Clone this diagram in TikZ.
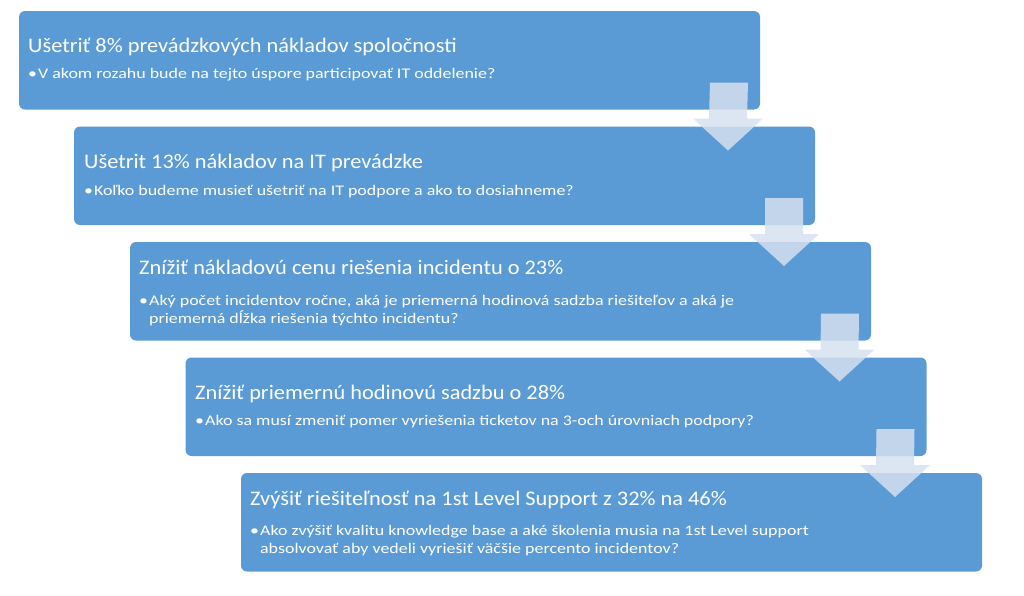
\documentclass[tikz,border=0pt]{standalone}
\usepackage{fontspec}
\setmainfont{Carlito}
\newfontfamily\titlefont[FakeStretch=1.08]{Carlito}
\newfontfamily\bulletfont[FakeStretch=1.22]{Carlito}
\usetikzlibrary{calc}
\definecolor{boxblue}{RGB}{91,155,213}
\definecolor{arrowtint}{RGB}{214,224,240}
\tikzset{
  stepbox/.style={fill=boxblue, draw=none, rounded corners=6pt, anchor=north west,
    minimum width=741pt, minimum height=98.5pt, inner sep=0pt, outer sep=0pt},
  ttl/.style={anchor=base west, inner sep=0pt, text=white,
    font=\titlefont\fontsize{20.7}{24}\selectfont},
  bul/.style={anchor=base west, inner sep=0pt, text=white,
    font=\bulletfont\fontsize{14.7}{18}\selectfont},
  arrowshape/.style={fill=arrowtint, fill opacity=0.85, draw=none},
}
\newcommand{\bl}{\textbullet\hspace{1pt}}
\begin{document}
\begin{tikzpicture}[x=1pt,y=-1pt]
\useasboundingbox (0,0) rectangle (1024,595);
% boxes
\node[stepbox] (b1) at (19,11) {};
\node[stepbox] (b2) at (74,126.5) {};
\node[stepbox] (b3) at (130,242) {};
\node[stepbox] (b4) at (185.5,357.5) {};
\node[stepbox] (b5) at (241,473) {};
% texts
\node[ttl] (t1) at (28,52) {Ušetriť 8\% prevádzkových nákladov spoločnosti};
\node[bul] (s1) at (28,78) {\bl V akom rozahu bude na tejto úspore participovať IT oddelenie?};
\node[ttl] (t2) at (84,168) {Ušetrit 13\% nákladov na IT prevádzke};
\node[bul] (s2) at (84,195) {\bl Koľko budeme musieť ušetriť na IT podpore a ako to dosiahneme?};
\node[ttl] (t3) at (139,274) {Znížiť nákladovú cenu riešenia incidentu o 23\%};
\node[bul] (s3a) at (139,305) {\bl Aký počet incidentov ročne, aká je priemerná hodinová sadzba riešiteľov a aká je};
\node[bul] (s3b) at (139,323) {\phantom{\bl}priemerná dĺžka riešenia týchto incidentu?};
\node[ttl] (t4) at (195,399) {Znížiť priemernú hodinovú sadzbu o 28\%};
\node[bul] (s4) at (195,425) {\bl Ako sa musí zmeniť pomer vyriešenia ticketov na 3-och úrovniach podpory?};
\node[ttl] (t5) at (250,505) {Zvýšiť riešiteľnosť na 1st Level Support z 32\% na 46\%};
\node[bul] (s5a) at (250,535) {\bl Ako zvýšiť kvalitu knowledge base a aké školenia musia na 1st Level support};
\node[bul] (s5b) at (250,553) {\phantom{\bl}absolvovať aby vedeli vyriešiť väčšie percento incidentov?};
% arrows
\foreach \a/\b in {b1/b2, b2/b3, b3/b4, b4/b5} {
  \coordinate (\a s) at ($(\a.south east)+(-31,-27)$);
  \coordinate (\a t) at ($(\b.north east)+(-87,24)$);
  \fill[arrowshape] ($(\a s)+(-19,0)$) -- ($(\a s)+(19,0)$) -- ($(\a t)+(19,-32)$)
    -- ($(\a t)+(35,-32)$) -- (\a t) -- ($(\a t)+(-35,-32)$) -- ($(\a t)+(-19,-32)$) -- cycle;
}
\end{tikzpicture}
\end{document}
